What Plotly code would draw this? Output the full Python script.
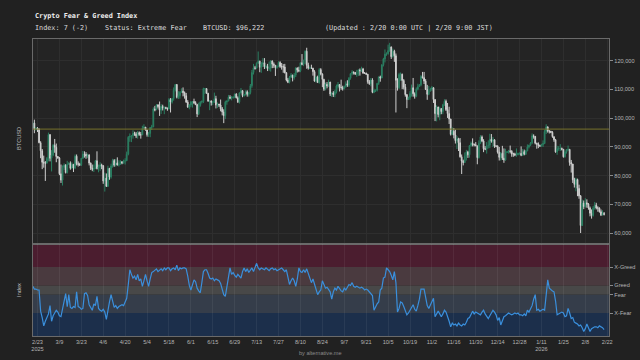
import pandas as pd
import plotly.graph_objects as go

# ---------------- data (BTC in thousands USD, daily from 2025-02-20) ----------------
start_date = "2025-02-20"
first_open = 96.6
close = [
    98.3, 96.1, 96.6, 96.2, 91.5, 88.7, 84.7, 84.4, 84.4,
    86.0, 94.3, 86.1, 87.2, 90.6, 89.9, 86.7, 86.2, 80.7, 78.5, 82.9, 83.7, 81.1, 84.0, 84.3, 82.6, 84.0, 82.7, 86.8, 84.2, 84.0, 83.8, 86.1, 87.5, 87.4, 86.9, 87.2, 84.4, 82.6, 82.3, 82.5,
    85.2, 82.5, 83.1, 83.8, 83.5, 78.2, 79.2, 76.3, 82.6, 79.6, 83.4, 85.3, 83.7, 84.5, 83.7, 84.0, 84.9, 84.4, 85.1, 85.2, 87.5, 93.4, 93.7, 93.9, 94.7, 94.6, 93.8, 95.0, 94.3, 94.2,
    96.5, 96.9, 95.9, 94.3, 94.7, 96.8, 97.0, 103.2, 102.9, 104.6, 104.1, 102.8, 104.1, 103.5, 103.7, 103.5, 103.2, 106.5, 105.6, 106.8, 109.7, 111.7, 107.3, 107.8, 109.0, 109.4, 108.9, 107.8, 105.6, 103.9, 104.6,
    105.7, 105.8, 105.4, 104.7, 101.5, 104.4, 105.6, 105.8, 110.3, 110.3, 108.7, 105.9, 106.0, 105.5, 105.6, 106.8, 104.6, 104.9, 104.6, 103.3, 102.2, 100.9, 105.6, 106.0, 107.3, 107.0, 107.1, 107.3, 108.4, 107.1,
    105.7, 108.8, 109.6, 107.9, 108.2, 109.2, 108.3, 108.9, 111.3, 115.9, 117.5, 117.4, 119.1, 119.8, 117.7, 118.8, 119.3, 117.9, 118.0, 117.3, 117.4, 119.9, 118.8, 118.4, 117.6, 117.9, 119.4, 118.0, 117.9, 117.8, 115.8,
    113.3, 112.5, 114.2, 115.0, 114.1, 115.0, 117.5, 116.7, 116.5, 119.3, 118.7, 120.2, 123.3, 118.4, 117.4, 117.5, 117.4, 116.2, 112.9, 114.3, 112.4, 116.9, 115.4, 113.5, 110.1, 111.8, 111.2, 112.6, 108.4, 108.8, 108.2,
    109.2, 111.2, 111.7, 110.7, 110.7, 110.2, 111.1, 112.0, 111.5, 113.9, 115.5, 116.1, 115.9, 115.3, 115.4, 116.8, 116.5, 117.1, 115.7, 115.7, 115.3, 112.7, 112.0, 113.3, 109.0, 109.7, 109.7, 112.1, 114.4, 114.0,
    118.6, 120.6, 122.3, 122.4, 123.5, 124.8, 121.4, 123.3, 121.7, 113.2, 110.6, 115.2, 115.3, 113.1, 110.8, 108.2, 106.5, 107.2, 108.6, 110.6, 108.5, 107.6, 110.1, 111.0, 111.6, 114.5, 114.1, 112.9, 110.0, 108.3, 109.6,
    110.1, 110.6, 106.5, 101.6, 103.9, 101.3, 103.4, 102.3, 104.7, 105.9, 103.0, 101.6, 99.7, 94.4, 95.5, 94.2, 92.2, 92.9, 91.5, 86.6, 85.1, 84.6, 86.8, 88.3, 87.3, 90.5, 91.3, 90.9, 90.8, 90.4,
    86.3, 91.3, 93.5, 92.1, 89.4, 89.3, 90.4, 90.6, 92.7, 92.0, 92.5, 90.3, 90.3, 88.2, 86.4, 87.8, 86.1, 85.5, 88.1, 88.3, 88.6, 88.5, 87.6, 87.6, 87.2, 87.3, 87.8, 87.8, 87.1, 88.4, 87.5,
    88.7, 90.0, 90.6, 91.4, 93.9, 93.7, 91.3, 91.0, 90.5, 90.4, 90.8, 91.2, 95.4, 97.0, 95.6, 95.5, 95.1, 93.6, 92.5, 88.3, 89.4, 89.5, 89.5, 89.2, 86.6, 88.3, 89.1, 89.2, 84.6, 84.1, 78.6,
    77.0, 78.7, 75.6, 73.0, 62.7, 70.5, 69.3, 70.6, 70.1, 68.8, 67.0, 66.2, 68.8, 69.8, 68.8, 68.8, 67.5, 66.4, 66.9, 66.6,
]
high = [
    98.8, 99.5, 96.9, 96.9, 96.5, 92.0, 89.3, 87.0, 85.1,
    86.5, 95.0, 94.4, 88.9, 91.0, 92.8, 91.2, 86.8, 86.5, 83.9, 83.6, 84.3, 84.0, 85.2, 84.7, 85.0, 84.7, 84.0, 87.4, 87.4, 85.0, 84.5, 86.1, 88.6, 88.5, 88.2, 87.7, 87.5, 84.6, 83.9, 83.9,
    85.5, 88.5, 83.9, 84.7, 84.2, 83.7, 81.1, 80.8, 83.5, 82.7, 84.2, 85.9, 85.8, 85.8, 86.4, 85.4, 85.4, 85.0, 85.6, 86.1, 88.4, 93.8, 94.7, 94.0, 95.8, 95.3, 95.2, 95.6, 95.4, 95.2,
    97.4, 97.9, 96.9, 96.0, 95.2, 96.9, 97.7, 103.8, 104.3, 104.9, 104.9, 105.8, 104.9, 104.7, 104.1, 104.0, 103.7, 107.0, 107.0, 107.0, 110.7, 111.9, 111.9, 109.4, 109.4, 110.4, 110.7, 109.3, 108.8, 106.3, 104.9,
    105.9, 105.9, 106.8, 105.9, 105.0, 105.4, 105.9, 106.2, 110.6, 110.4, 110.4, 108.8, 106.2, 106.2, 106.0, 108.9, 107.8, 105.5, 105.0, 106.5, 103.9, 103.1, 106.1, 106.2, 108.1, 108.0, 107.7, 107.6, 108.5, 108.7,
    107.6, 109.0, 110.5, 109.7, 108.4, 109.7, 109.7, 109.0, 111.9, 116.8, 118.9, 118.2, 119.4, 123.2, 120.0, 119.5, 120.9, 120.9, 118.6, 118.9, 119.7, 120.2, 120.1, 119.4, 118.4, 118.4, 119.8, 119.8, 119.2, 118.8, 118.9,
    116.0, 114.0, 114.7, 115.7, 115.1, 115.7, 117.7, 117.6, 117.9, 119.3, 122.3, 120.3, 123.6, 124.5, 119.3, 117.9, 118.6, 117.5, 116.7, 114.6, 114.8, 117.4, 117.4, 115.6, 113.7, 112.4, 112.6, 113.4, 112.6, 108.9, 109.4,
    109.9, 111.7, 112.6, 111.8, 113.4, 111.3, 111.3, 112.8, 113.2, 114.3, 115.6, 116.7, 116.2, 116.1, 116.8, 117.0, 117.3, 117.9, 117.5, 116.0, 115.8, 115.4, 113.3, 114.0, 113.9, 110.3, 110.0, 112.3, 114.4, 114.8,
    118.7, 121.0, 123.9, 122.9, 125.6, 126.2, 124.9, 124.2, 123.8, 122.5, 113.9, 115.8, 115.9, 115.5, 113.6, 111.9, 108.4, 107.5, 109.4, 111.7, 114.0, 109.0, 110.7, 112.0, 111.9, 115.0, 116.1, 116.1, 113.6, 111.6, 111.2,
    110.6, 111.2, 110.8, 106.6, 104.5, 104.0, 104.0, 103.4, 105.0, 106.6, 106.5, 105.3, 104.0, 99.8, 96.8, 96.6, 96.0, 93.8, 93.2, 93.1, 87.4, 85.6, 88.1, 89.0, 88.7, 90.6, 91.9, 93.0, 91.2, 91.7,
    90.4, 92.3, 94.1, 94.0, 92.7, 90.3, 91.7, 92.3, 94.6, 94.5, 93.5, 92.7, 90.6, 90.6, 90.0, 88.2, 90.4, 89.5, 89.4, 88.6, 89.0, 90.5, 88.9, 88.0, 88.0, 89.5, 88.0, 88.1, 90.2, 89.3, 89.1,
    88.9, 90.9, 90.8, 91.7, 94.7, 94.4, 93.6, 91.5, 91.6, 90.8, 91.1, 92.3, 96.0, 97.9, 97.1, 95.8, 95.5, 95.5, 93.6, 92.8, 90.4, 90.3, 91.0, 89.8, 89.3, 88.8, 89.3, 90.5, 89.2, 85.5, 84.1,
    79.3, 79.3, 79.0, 76.9, 73.3, 71.7, 71.4, 72.2, 71.8, 70.5, 69.3, 68.3, 69.5, 70.9, 70.6, 69.4, 69.0, 68.3, 68.0, 67.4,
]
low = [
    96.4, 94.8, 95.7, 95.2, 91.3, 86.1, 82.3, 82.8, 78.2,
    84.2, 85.0, 85.0, 81.5, 86.8, 88.0, 84.7, 85.9, 80.2, 77.5, 76.6, 82.0, 80.8, 80.8, 83.8, 82.1, 82.5, 81.3, 82.3, 83.6, 83.2, 83.4, 83.4, 85.8, 86.3, 85.9, 86.1, 83.6, 82.0, 81.6, 81.3,
    82.4, 82.2, 81.2, 81.7, 82.3, 77.2, 74.5, 76.2, 76.2, 78.6, 79.0, 82.8, 83.1, 83.2, 83.6, 83.2, 83.8, 84.0, 84.2, 83.9, 85.1, 87.1, 91.8, 91.7, 92.9, 93.9, 93.1, 92.9, 93.9, 92.9,
    94.2, 96.0, 95.7, 93.6, 93.5, 93.4, 95.9, 96.9, 102.4, 102.9, 103.4, 100.8, 101.5, 102.7, 101.4, 103.1, 102.6, 103.1, 102.0, 105.1, 106.1, 109.3, 106.9, 106.7, 106.8, 108.8, 107.6, 106.8, 105.3, 103.6, 103.1,
    103.8, 103.7, 104.9, 104.6, 100.4, 101.1, 104.0, 105.1, 105.3, 108.4, 108.5, 105.8, 102.8, 104.4, 104.6, 105.3, 103.4, 103.6, 103.9, 102.4, 101.0, 98.3, 99.7, 104.7, 105.9, 106.6, 106.2, 106.8, 107.0, 106.9,
    105.3, 105.1, 108.6, 107.3, 107.5, 107.9, 107.5, 107.5, 108.3, 110.6, 115.2, 116.9, 117.3, 118.9, 116.0, 115.8, 117.8, 117.1, 117.3, 116.4, 116.5, 116.2, 117.4, 117.5, 114.7, 117.2, 117.9, 117.5, 116.9, 115.8, 115.6,
    112.8, 112.2, 112.1, 114.2, 112.8, 113.4, 114.3, 115.9, 116.0, 116.0, 118.4, 118.1, 118.9, 117.2, 116.9, 117.1, 117.2, 114.8, 112.7, 112.4, 112.4, 112.0, 114.9, 110.8, 109.5, 109.7, 110.4, 110.9, 107.7, 107.4, 107.4,
    107.3, 108.6, 110.3, 109.3, 109.9, 109.6, 110.0, 110.6, 110.9, 110.9, 113.4, 114.9, 115.2, 115.1, 114.4, 114.7, 114.8, 116.1, 115.4, 115.4, 115.1, 112.0, 111.6, 111.1, 108.7, 108.7, 109.1, 109.3, 111.6, 112.7,
    113.9, 118.0, 119.4, 121.7, 122.1, 123.1, 120.6, 121.1, 119.6, 102.0, 109.6, 110.1, 113.0, 110.1, 110.0, 107.5, 103.5, 106.3, 106.4, 107.5, 107.5, 106.8, 107.3, 109.7, 110.9, 111.1, 113.8, 111.9, 109.8, 106.4, 108.0,
    109.2, 109.5, 105.3, 99.0, 98.9, 100.3, 99.3, 101.4, 101.4, 104.3, 102.5, 100.1, 98.0, 94.0, 94.1, 93.0, 91.2, 89.3, 88.6, 86.3, 80.6, 83.6, 84.8, 85.3, 86.2, 86.3, 90.1, 90.2, 90.2, 90.3,
    84.0, 86.0, 91.0, 91.7, 88.2, 88.9, 87.7, 89.5, 89.6, 91.5, 90.0, 89.7, 89.9, 87.7, 85.3, 85.3, 85.5, 84.5, 85.2, 87.9, 87.7, 87.8, 86.6, 86.6, 86.8, 86.6, 87.1, 87.3, 86.8, 86.9, 87.1,
    87.2, 88.5, 89.5, 90.3, 91.0, 92.9, 90.9, 89.4, 89.6, 90.0, 90.1, 90.0, 91.0, 94.5, 95.0, 94.7, 94.8, 93.2, 91.8, 88.0, 87.3, 88.7, 88.6, 88.8, 86.3, 86.3, 87.7, 88.6, 83.5, 81.1, 77.5,
    75.9, 74.6, 72.9, 72.0, 60.1, 62.9, 68.4, 68.9, 68.9, 68.2, 65.9, 65.1, 65.8, 68.2, 68.3, 67.5, 67.2, 66.0, 66.2, 66.2,
]
fgi = [
    54, 51, 51, 50, 50, 27, 20, 11, 16,
    20, 24, 33, 16, 22, 25, 28, 26, 22, 21, 30, 38, 46, 32, 45, 31, 30, 32, 31, 48, 32, 31, 29, 30, 46, 47, 44, 34, 30, 28, 35,
    33, 43, 30, 28, 27, 29, 26, 18, 30, 37, 45, 38, 31, 33, 30, 32, 33, 34, 33, 38, 41, 56, 72, 67, 63, 65, 61, 67, 60, 62,
    54, 60, 67, 60, 54, 62, 69, 70, 72, 73, 70, 72, 73, 71, 74, 72, 74, 74, 71, 73, 74, 72, 77, 71, 74, 73, 74, 74, 73, 65, 55,
    50, 55, 61, 59, 52, 49, 47, 58, 70, 72, 72, 68, 63, 62, 63, 60, 62, 61, 60, 57, 50, 45, 43, 55, 65, 74, 67, 69, 66, 64,
    67, 65, 63, 70, 74, 70, 73, 69, 72, 74, 70, 74, 79, 74, 72, 74, 73, 72, 74, 72, 71, 73, 74, 72, 73, 71, 72, 73, 74, 72, 70,
    72, 65, 56, 60, 63, 60, 54, 62, 74, 70, 69, 72, 69, 73, 68, 65, 58, 62, 56, 50, 45, 48,
    50, 60, 56, 52, 53, 51, 48, 40, 48, 52,
    50, 54, 51, 49, 48, 52, 50, 53, 56, 55,
    58, 54, 53, 54, 53, 52, 53, 52, 50, 51,
    50, 48, 45, 44, 28, 32, 35, 37, 50, 52,
    63, 64, 74, 72, 70, 66, 61, 70, 58, 26,
    30, 37, 36, 32, 28, 23, 25, 28, 30, 34,
    29, 27, 33, 40, 51, 51, 51, 42, 33, 30,
    34, 37, 41, 21, 24, 27, 24, 21, 24, 28,
    26, 22, 16, 10, 14, 12, 13, 11, 14, 12,
    11, 13, 12, 15, 19, 20, 24, 27, 24, 26,
    25, 24, 23, 26, 28, 24, 22, 19, 22, 25,
    28, 26, 23, 17, 20, 12, 16, 21, 22, 24,
    25, 24, 23, 24, 25, 24, 25, 23, 23, 22,
    24, 22, 28, 26, 29, 33, 40, 45, 28, 29,
    27, 28, 29, 28, 42, 61, 52, 50, 49, 48,
    38, 23, 24, 25, 26, 25, 21, 22, 30, 25,
    19, 20, 15, 14, 13, 11, 12, 9, 5, 8,
    13, 9, 5, 8, 9, 10, 10, 9, 11, 10,
    9, 7,
]
btc_ref = 96222
price_ticks = [60000, 70000, 80000, 90000, 100000, 110000, 120000]
zone_bounds = [0, 25, 45, 55, 75, 100]
zone_colors = ["#1c2f4b", "#353d4a", "#484848", "#4a3a3f", "#4b1d2f"]
zone_tickvals = [25, 45, 55, 75]
zone_ticktext = ["X-Fear", "Fear", "Greed", "X-Greed"]
tick_dates = ["2025-02-23", "2025-03-09", "2025-03-23", "2025-04-06", "2025-04-20", "2025-05-04",
              "2025-05-18", "2025-06-01", "2025-06-15", "2025-06-29", "2025-07-13", "2025-07-27",
              "2025-08-10", "2025-08-24", "2025-09-07", "2025-09-21", "2025-10-05", "2025-10-19",
              "2025-11-02", "2025-11-16", "2025-11-30", "2025-12-14", "2025-12-28", "2026-01-11",
              "2026-01-25", "2026-02-08", "2026-02-22"]
tick_labels = ["2/23<br>2025", "3/9", "3/23", "4/6", "4/20", "5/4", "5/18", "6/1", "6/15", "6/29",
               "7/13", "7/27", "8/10", "8/24", "9/7", "9/21", "10/5", "10/19", "11/2", "11/16",
               "11/30", "12/14", "12/28", "1/11<br>2026", "1/25", "2/8", "2/22"]

assert len(close) == len(high) == len(low), (len(close), len(high), len(low))

dates = pd.date_range(start_date, periods=len(close), freq="D")
fgi_dates = pd.date_range(start_date, periods=len(fgi), freq="D")
opens = [first_open] + close[:-1]
k = 1000.0

# ---------------- figure ----------------
W, H = 640, 360
def px(x):
    return x / W
def py(y):
    return 1 - y / H

x_dom = [px(32), px(612)]
top_dom = [py(244), py(39)]
bot_dom = [py(336), py(244)]
x_range = ["2025-02-20 00:00", "2026-02-23 06:00"]

fig = go.Figure()
fig.add_trace(go.Candlestick(
    x=dates, open=[v * k for v in opens], high=[v * k for v in high],
    low=[v * k for v in low], close=[v * k for v in close],
    increasing=dict(line=dict(color="#2b7f62", width=1), fillcolor="#2b7f62"),
    decreasing=dict(line=dict(color="#d0d0d0", width=1), fillcolor="#d0d0d0"),
    whiskerwidth=0, xaxis="x", yaxis="y", showlegend=False,
))
fig.add_trace(go.Scatter(
    x=fgi_dates, y=fgi, mode="lines", line=dict(color="#3a8fdc", width=1.2),
    xaxis="x2", yaxis="y2", showlegend=False,
))

shapes = []
for i in range(len(zone_colors)):
    shapes.append(dict(type="rect", xref="x2 domain", yref="y2", x0=0, x1=1,
                       y0=zone_bounds[i], y1=zone_bounds[i + 1],
                       fillcolor=zone_colors[i], line=dict(width=0), layer="below"))
shapes.append(dict(type="line", xref="x domain", yref="y", x0=0, x1=1, y0=btc_ref, y1=btc_ref,
                   line=dict(color="#77732c", width=1)))

tick_font = dict(family="Liberation Sans, Arial, sans-serif", size=5.6, color="#b4b4b4")
mono = "DejaVu Sans Mono, monospace"

fig.update_layout(
    width=W, height=H, margin=dict(l=0, r=0, t=0, b=0),
    paper_bgcolor="#212121", plot_bgcolor="#242424",
    shapes=shapes,
    xaxis=dict(domain=x_dom, anchor="y", range=x_range, type="date",
               tickvals=tick_dates, showticklabels=False, ticks="",
               showgrid=True, gridcolor="#2e2e2e", gridwidth=1,
               showline=True, linecolor="#6a6a6a", mirror=True, zeroline=False,
               rangeslider=dict(visible=False)),
    yaxis=dict(domain=top_dom, anchor="x", range=[56280, 127540], side="right",
               tickvals=price_ticks, tickformat=",d", ticks="outside", ticklen=3,
               tickcolor="#8a8a8a", tickfont=tick_font,
               showgrid=True, gridcolor="#2e2e2e", gridwidth=1,
               showline=True, linecolor="#6a6a6a", mirror=True, zeroline=False),
    xaxis2=dict(domain=x_dom, anchor="y2", range=x_range, type="date", matches="x",
                tickvals=tick_dates, ticktext=tick_labels, tickfont=tick_font, ticks="",
                showgrid=True, gridcolor="rgba(255,255,255,0.06)", gridwidth=1,
                showline=True, linecolor="#6a6a6a", mirror=True, zeroline=False),
    yaxis2=dict(domain=bot_dom, anchor="x2", range=[0, 100], side="right",
                tickvals=zone_tickvals, ticktext=zone_ticktext, ticks="outside", ticklen=3,
                tickcolor="#8a8a8a", tickfont=tick_font, showgrid=False,
                showline=True, linecolor="#6a6a6a", mirror=True, zeroline=False),
)

ann = []
def text(x, y, s, size=6.8, color="#e6e6e6", family=mono, xanchor="left", angle=0):
    ann.append(dict(x=px(x), y=py(y), xref="paper", yref="paper", text=s, showarrow=False,
                    xanchor=xanchor, yanchor="middle", textangle=angle,
                    font=dict(family=family, size=size, color=color)))

text(32, 16, "<b>Crypto Fear & Greed Index</b>", color="#f0f0f0")
text(32, 28, "Index: 7 (-2)", color="#dcdcdc")
text(103, 28, "Status: Extreme Fear", color="#dcdcdc")
text(201, 28, "BTCUSD: $96,222", color="#dcdcdc")
text(324.5, 28, "(Updated : 2/20 0:00 UTC | 2/20 9:00 JST)", color="#dcdcdc")
text(18, 138, "BTCUSD", size=5.6, color="#bdbdbd", family="Liberation Sans, Arial, sans-serif",
     xanchor="center", angle=-90)
text(18, 290, "Index", size=5.6, color="#bdbdbd", family="Liberation Sans, Arial, sans-serif",
     xanchor="center", angle=-90)
text(322, 353, "by alternative.me", size=5.6, color="#8c8c8c",
     family="Liberation Sans, Arial, sans-serif", xanchor="center")
fig.update_layout(annotations=ann)

fig.write_html("out.html", config={"displayModeBar": False},
               post_script="document.body.style.margin='0';document.body.style.background='#212121';")
